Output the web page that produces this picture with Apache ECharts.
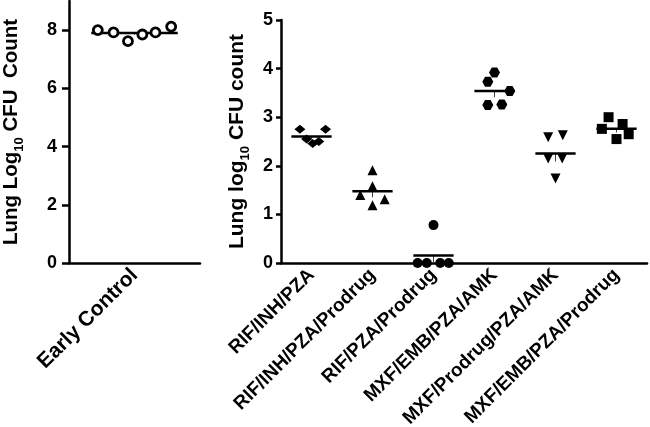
<!DOCTYPE html>
<html>
<head>
<meta charset="utf-8">
<script src="https://cdn.jsdelivr.net/npm/echarts@6/dist/echarts.min.js"></script>
<style>
  html, body { margin: 0; padding: 0; background: #fff; }
  #chart-container { width: 650px; height: 427px; }
</style>
</head>
<body>
<div id="chart-container"></div>
<script>
var leftCategories = ['Early Control'];
var earlyControl = [8.00, 7.92, 7.62, 7.85, 7.92, 8.12];
var earlyJitter = [-0.28, -0.16, -0.05, 0.06, 0.16, 0.28];

var categories = ['RIF/INH/PZA', 'RIF/INH/PZA/Prodrug', 'RIF/PZA/Prodrug',
  'MXF/EMB/PZA/AMK', 'MXF/Prodrug/PZA/AMK', 'MXF/EMB/PZA/Prodrug'];
var rifInhPza = [2.75, 2.75, 2.55, 2.46, 2.50];
var rifInhPzaProdrug = [1.91, 1.58, 1.40, 1.31, 1.19];
var rifPzaProdrug = [0.78, 0, 0, 0, 0];
var mxfEmbPzaAmk = [3.92, 3.73, 3.54, 3.25, 3.26];
var mxfProdrugPzaAmk = [2.59, 2.63, 2.15, 2.15, 1.74];
var mxfEmbPzaProdrug = [3.00, 2.86, 2.76, 2.65, 2.55];

// horizontal scatter offsets, in category widths
var jitter = [
  [-0.19, 0.23, -0.08, 0.02, 0.12],
  [0, 0, -0.20, 0.20, 0],
  [0, -0.26, -0.11, 0.11, 0.25],
  [0, -0.11, 0.25, -0.11, 0.12],
  [-0.12, 0.12, -0.12, 0.11, 0],
  [-0.13, 0.10, -0.24, 0.20, 0]
];
var groups = [rifInhPza, rifInhPzaProdrug, rifPzaProdrug, mxfEmbPzaAmk, mxfProdrugPzaAmk, mxfEmbPzaProdrug];
var symbols = ['diamond', 'triangle', 'circle',
  'path://M-10,0 L-5,-8.66 L5,-8.66 L10,0 L5,8.66 L-5,8.66 Z', 'triangle', 'rect'];
var rotations = [0, 0, 0, 0, 180, 0];
var sizes = [[11, 9], 10, 10, [11, 10], 10, 10];

var font = 'Liberation Sans, Arial, sans-serif';

function meanSem(arr) {
  var m = arr.reduce(function (a, b) { return a + b; }, 0) / arr.length;
  var v = arr.reduce(function (a, b) { return a + (b - m) * (b - m); }, 0) / (arr.length - 1);
  return [m, Math.sqrt(v) / Math.sqrt(arr.length)];
}

function meanItem(params, api) {
  var c = api.value(0), m = api.value(1), s = api.value(2);
  var p1 = api.coord([c - 0.33, m]);
  var p2 = api.coord([c + 0.33, m]);
  var pc = api.coord([c, m]);
  var pl = api.coord([c, m - s]);
  return {
    type: 'group',
    children: [
      { type: 'line', shape: { x1: pc[0], y1: pc[1], x2: pl[0], y2: pl[1] },
        style: { stroke: '#444', lineWidth: 1 } },
      { type: 'line', shape: { x1: p1[0], y1: p1[1], x2: p2[0], y2: p2[1] },
        style: { stroke: '#000', lineWidth: 2.5 } }
    ]
  };
}

var chartDom = document.getElementById('chart-container');
var myChart = echarts.init(chartDom);

var series = [];
series.push({
  type: 'scatter', xAxisIndex: 2, yAxisIndex: 0, z: 3,
  symbol: 'circle', symbolSize: 9,
  itemStyle: { color: '#fff', borderColor: '#000', borderWidth: 2.8, opacity: 1 },
  data: earlyControl.map(function (v, i) { return [earlyJitter[i], v]; })
});
var ms = meanSem(earlyControl);
series.push({
  type: 'custom', xAxisIndex: 2, yAxisIndex: 0, z: 2,
  renderItem: meanItem, data: [[0, ms[0], ms[1]]]
});

var meanData = [];
groups.forEach(function (g, k) {
  series.push({
    type: 'scatter', xAxisIndex: 3, yAxisIndex: 1,
    symbol: symbols[k], symbolRotate: rotations[k], symbolSize: sizes[k],
    itemStyle: { color: '#000', opacity: 1 },
    data: g.map(function (v, i) { return [k + jitter[k][i], v]; })
  });
  var r = meanSem(g);
  meanData.push([k, r[0], r[1]]);
});
series.push({
  type: 'custom', xAxisIndex: 3, yAxisIndex: 1, z: 3,
  renderItem: meanItem, data: meanData
});

var axisLine = { show: true, onZero: false, lineStyle: { color: '#000', width: 2.5 } };
var labelStyle = { color: '#000', fontFamily: font, fontWeight: 'bold', fontSize: 18 };
function xLabel(size) {
  return { rotate: 45, interval: 0, margin: 9, fontSize: size, color: '#000', fontFamily: font, fontWeight: 'bold' };
}
function nameRich(size) {
  return {
    a: { fontFamily: font, fontWeight: 'bold', fontSize: size, color: '#000', lineHeight: 20, verticalAlign: 'bottom' },
    s: { fontFamily: font, fontWeight: 'bold', fontSize: 13, color: '#000', lineHeight: 20, verticalAlign: 'bottom', padding: [0, 0, -4, 0] }
  };
}

option = {
  animation: false,
  grid: [
    { left: 69, width: 131, top: 1, bottom: 164, outerBoundsMode: 'none', containLabel: false },
    { left: 281, right: 3, top: 20, bottom: 164, outerBoundsMode: 'none', containLabel: false }
  ],
  xAxis: [
    { type: 'category', gridIndex: 0, data: leftCategories,
      axisLine: axisLine,
      axisTick: { alignWithLabel: true, length: 7, lineStyle: { color: '#000', width: 2.5 } },
      axisLabel: xLabel(21) },
    { type: 'category', gridIndex: 1, data: categories,
      axisLine: axisLine,
      axisTick: { alignWithLabel: true, length: 7, lineStyle: { color: '#000', width: 2.5 } },
      axisLabel: xLabel(19) },
    { type: 'value', gridIndex: 0, min: -0.5, max: 0.5, show: false },
    { type: 'value', gridIndex: 1, min: -0.5, max: 5.5, show: false }
  ],
  yAxis: [
    { type: 'value', gridIndex: 0, min: 0, max: 9, interval: 1,
      name: '{a|Lung Log}{s|10}{a| CFU  Count}',
      nameLocation: 'middle', nameGap: 47, nameTextStyle: { rich: nameRich(20.5) },
      axisLine: axisLine,
      axisTick: { length: 7, lineStyle: { color: '#000', width: 2.5 }, customValues: [0, 2, 4, 6, 8] },
      axisLabel: Object.assign({ margin: 12, customValues: [0, 2, 4, 6, 8] }, labelStyle),
      splitLine: { show: false } },
    { type: 'value', gridIndex: 1, min: 0, max: 5, interval: 1,
      name: '{a|Lung log}{s|10}{a| CFU count}',
      nameLocation: 'middle', nameGap: 19, nameTextStyle: { rich: nameRich(21) },
      axisLine: axisLine,
      axisTick: { length: 5, lineStyle: { color: '#000', width: 2.5 } },
      axisLabel: Object.assign({ margin: 8 }, labelStyle),
      splitLine: { show: false } }
  ],
  series: series
};

option && myChart.setOption(option);
</script>
</body>
</html>
